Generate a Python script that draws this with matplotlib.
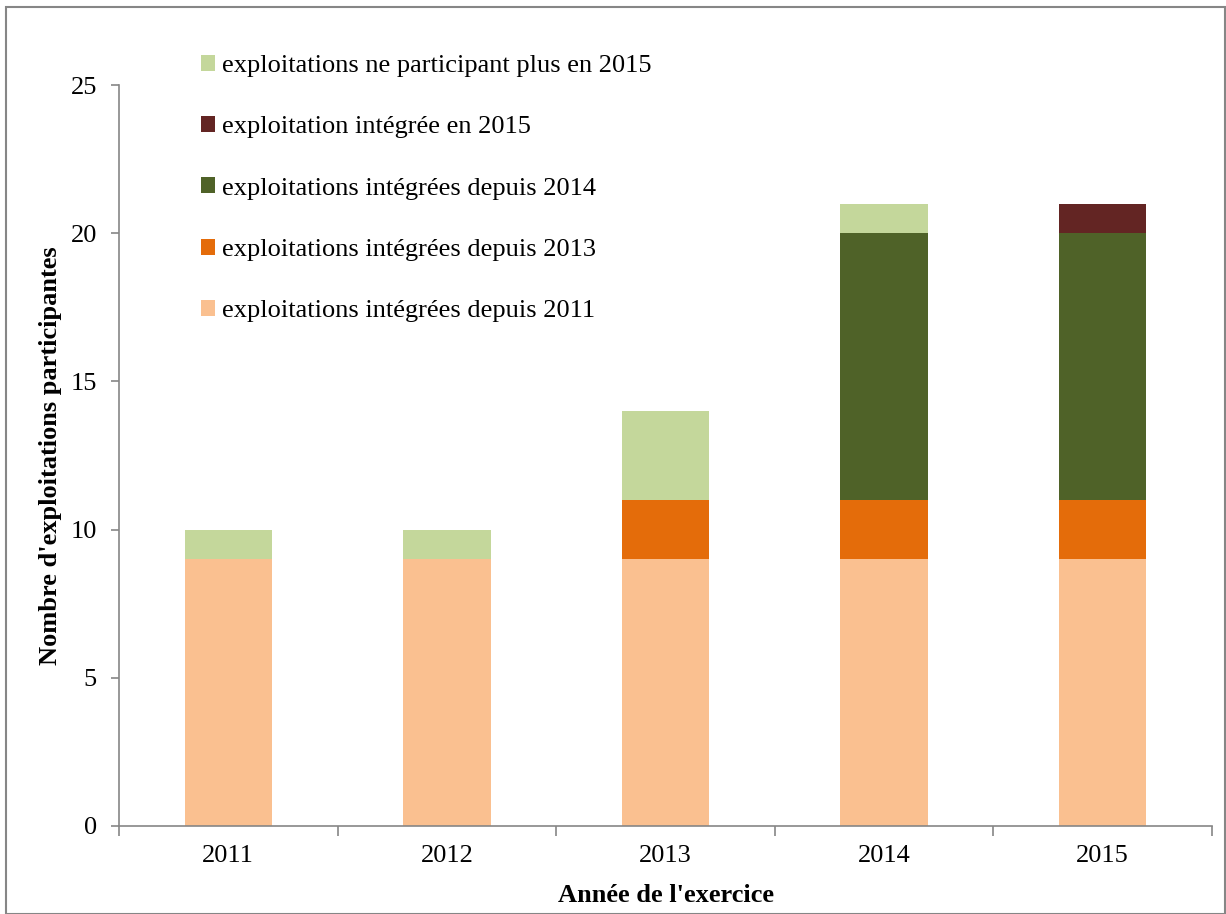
import matplotlib
matplotlib.use("Agg")
import matplotlib.pyplot as plt
from matplotlib.patches import Rectangle, Patch
import numpy as np

years = ["2011", "2012", "2013", "2014", "2015"]
depuis_2011 = [9, 9, 9, 9, 9]
depuis_2013 = [0, 0, 2, 2, 2]
depuis_2014 = [0, 0, 0, 9, 9]
integree_2015 = [0, 0, 0, 0, 1]
ne_participant_plus = [1, 1, 3, 1, 0]

series = [
    ("exploitations intégrées depuis 2011", depuis_2011, "#FAC090"),
    ("exploitations intégrées depuis 2013", depuis_2013, "#E46C0A"),
    ("exploitations intégrées depuis 2014", depuis_2014, "#4F6228"),
    ("exploitation intégrée en 2015", integree_2015, "#632523"),
    ("exploitations ne participant plus en 2015", ne_participant_plus, "#C4D79B"),
]

plt.rcParams["font.family"] = ["Liberation Serif", "DejaVu Serif"]
FS = 19
GRAY = "#868686"

fig = plt.figure(figsize=(12.26, 9.14), dpi=100)
ax = fig.add_axes([119 / 1226, 1 - 826 / 914, (1212 - 119) / 1226, (826 - 85) / 914])

x = np.arange(len(years))
bottom = np.zeros(len(years))
for label, vals, color in series:
    ax.bar(x, vals, width=0.4, bottom=bottom, color=color, label=label, linewidth=0)
    bottom += np.array(vals)

ax.set_xlim(-0.5, len(years) - 0.5)
ax.set_ylim(0, 25)
ax.set_yticks([0, 5, 10, 15, 20, 25])
ax.set_xticks(x)
ax.set_xticklabels(years)
ax.set_xticks(np.arange(-0.5, len(years)), minor=True)
ax.tick_params(axis="x", which="major", length=0, labelsize=FS, pad=14)
ax.tick_params(axis="x", which="minor", length=7, width=1.2, color=GRAY, direction="out")
ax.tick_params(axis="y", length=6, width=1.2, color=GRAY, labelsize=FS, pad=10)

for s in ("top", "right"):
    ax.spines[s].set_visible(False)
for s in ("left", "bottom"):
    ax.spines[s].set_color(GRAY)
    ax.spines[s].set_linewidth(1.2)

ax.set_xlabel("Année de l'exercice", fontsize=FS, fontweight="bold", labelpad=12)
ax.set_ylabel("Nombre d'exploitations participantes", fontsize=FS, fontweight="bold", labelpad=6)

handles = [Patch(facecolor=c, label=l) for l, _, c in reversed(series)]
ax.legend(handles=handles, loc="upper left", bbox_to_anchor=(0.065, 1.055),
          frameon=False, fontsize=FS, handlelength=0.55, handleheight=0.55,
          handletextpad=0.25, labelspacing=1.48, borderaxespad=0)

fig.patches.append(Rectangle((6 / 1226, 0.5 / 914), 1 - 7 / 1226, 1 - 7.5 / 914,
                             transform=fig.transFigure, fill=False,
                             edgecolor=GRAY, linewidth=1.5))

fig.savefig("out.png", dpi=100)
